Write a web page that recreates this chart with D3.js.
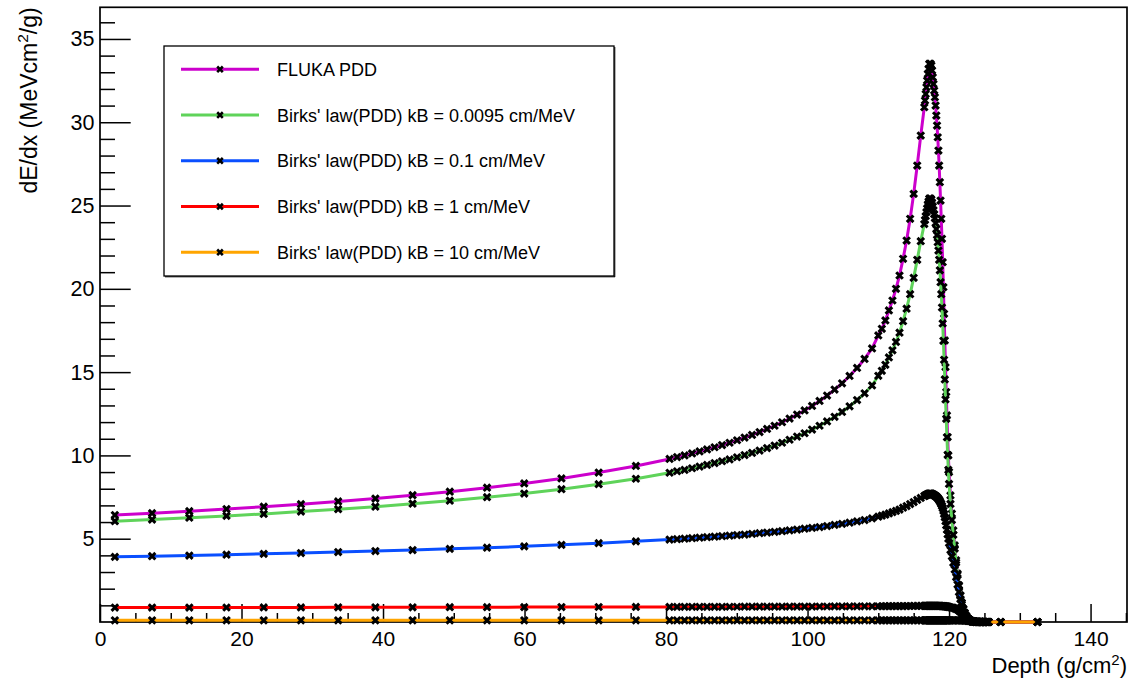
<!DOCTYPE html>
<html><head><meta charset="utf-8">
<script src="https://cdn.jsdelivr.net/npm/d3@7"></script>
<style>body{margin:0;background:#fff}svg{display:block}text{font-family:"Liberation Sans",Arial,Helvetica,sans-serif}</style>
</head><body>
<svg id="c" width="1132" height="681"></svg>
<script>
const depth = [2.1,7.36,12.62,17.88,23.14,28.4,33.66,38.92,44.18,49.44,54.7,59.96,65.22,70.48,75.74,
80.5,81.56,82.62,83.68,84.74,85.8,86.86,87.92,88.98,90.04,91.1,92.16,93.22,94.28,95.34,96.4,97.46,98.52,99.58,100.64,101.7,102.76,103.82,104.88,105.94,107.0,108.06,109.12,
110,110.5,111,111.5,112,112.5,113,113.5,114,114.5,115,115.5,116,116.5,
116.6,116.7,116.8,116.9,117.0,117.1,117.2,117.3,117.4,117.5,117.6,117.7,117.8,117.9,118.0,118.1,118.2,118.3,118.4,118.5,118.6,118.7,118.8,118.9,119.0,119.1,119.2,119.3,119.4,119.5,119.6,119.7,119.8,119.9,120.0,
120.2,120.4,120.6,120.8,121.0,121.2,121.4,121.6,121.8,122.0,122.2,122.4,122.6,122.8,123.0,123.2,123.4,123.6,123.8,124.0,124.2,124.4,124.6,124.8,125.0,125.2,125.4,125.6,
127.3,132.5];

const flukaPDD = [6.42,6.53,6.65,6.78,6.92,7.07,7.24,7.41,7.61,7.82,8.06,8.32,8.62,8.97,9.37,
9.79,9.90,10.00,10.12,10.24,10.36,10.49,10.62,10.76,10.91,11.07,11.23,11.40,11.59,11.78,11.99,12.21,12.45,12.70,12.97,13.27,13.59,13.95,14.33,14.77,15.25,15.79,16.42,
17.2,17.6,18.1,18.7,19.3,20.0,20.8,21.8,22.9,24.2,25.7,27.4,29.2,30.9,
31.3,31.7,32.1,32.5,32.9,33.2,33.5,33.5,33.5,33.4,33.1,32.7,32.3,31.9,31.5,31.0,30.4,29.8,29.1,28.3,27.4,26.4,25.3,24.2,23.0,21.6,20.1,18.5,16.9,15.3,13.8,12.4,11.1,10.0,9.0,
7.6,6.5,5.5,4.6,3.7,2.9,2.2,1.6,1.15,0.8,0.55,0.37,0.24,0.15,0.09,0.055,0.032,0.018,0.01,0.005,0.0025,0.0012,0.0005,0,0,0,0,0,
0,0];

const birks0095 = [6.05,6.15,6.26,6.37,6.49,6.63,6.77,6.92,7.10,7.28,7.49,7.71,7.97,8.27,8.60,
8.96,9.05,9.13,9.23,9.33,9.43,9.54,9.65,9.76,9.89,10.02,10.15,10.29,10.44,10.59,10.76,10.94,11.13,11.33,11.55,11.78,12.04,12.32,12.61,12.95,13.32,13.73,14.20,
14.78,15.08,15.44,15.88,16.31,16.81,17.37,18.06,18.81,19.68,20.66,21.74,22.86,23.89,
24.13,24.36,24.60,24.83,25.07,25.24,25.41,25.41,25.41,25.36,25.18,24.95,24.72,24.48,24.25,23.95,23.59,23.23,22.80,22.30,21.74,21.11,20.40,19.68,18.88,17.92,16.88,15.74,14.56,13.36,12.20,11.09,10.04,9.13,8.29,
7.09,6.12,5.23,4.41,3.57,2.82,2.16,1.58,1.14,0.79,0.55,0.37,0.24,0.15,0.09,0.055,0.032,0.018,0.01,0.005,0.0025,0.0012,0.0005,0,0,0,0,0,
0,0];

const birks01 = [3.91,3.95,3.99,4.04,4.09,4.14,4.20,4.26,4.32,4.39,4.46,4.54,4.63,4.73,4.84,
4.95,4.97,5.00,5.03,5.06,5.09,5.12,5.15,5.18,5.22,5.25,5.29,5.33,5.37,5.41,5.45,5.50,5.55,5.60,5.65,5.70,5.76,5.83,5.89,5.96,6.04,6.12,6.22,
6.32,6.38,6.44,6.52,6.59,6.67,6.75,6.86,6.96,7.08,7.20,7.33,7.45,7.56,
7.58,7.60,7.63,7.65,7.67,7.69,7.70,7.70,7.70,7.70,7.68,7.66,7.64,7.61,7.59,7.56,7.53,7.49,7.44,7.39,7.33,7.25,7.17,7.08,6.97,6.84,6.68,6.49,6.28,6.05,5.80,5.54,5.26,5.00,4.74,
4.32,3.94,3.55,3.15,2.70,2.25,1.80,1.38,1.03,0.74,0.52,0.36,0.23,0.15,0.09,0.055,0.032,0.018,0.01,0.005,0.0025,0.0012,0.0005,0,0,0,0,0,
0,0];

const birks1 = [0.865,0.867,0.869,0.871,0.874,0.876,0.879,0.881,0.884,0.887,0.890,0.893,0.896,0.900,0.904,
0.907,0.908,0.909,0.910,0.911,0.912,0.913,0.914,0.915,0.916,0.917,0.918,0.919,0.921,0.922,0.923,0.924,0.926,0.927,0.928,0.930,0.931,0.933,0.935,0.937,0.938,0.940,0.943,
0.945,0.946,0.948,0.949,0.951,0.952,0.954,0.956,0.958,0.960,0.963,0.965,0.967,0.969,
0.969,0.969,0.970,0.970,0.971,0.971,0.971,0.971,0.971,0.971,0.971,0.970,0.970,0.970,0.969,0.969,0.968,0.968,0.967,0.966,0.965,0.964,0.962,0.960,0.958,0.956,0.953,0.949,0.944,0.939,0.932,0.925,0.917,0.909,0.900,
0.884,0.867,0.846,0.821,0.787,0.744,0.688,0.615,0.535,0.444,0.355,0.270,0.194,0.130,0.083,0.052,0.031,0.018,0.010,0.005,0.0025,0.0012,0.0005,0,0,0,0,0,
0,0];

const birks10 = [0.0985,0.0985,0.0985,0.0985,0.0986,0.0986,0.0986,0.0987,0.0987,0.0987,0.0988,0.0988,0.0989,0.0989,0.0989,
0.0990,0.0990,0.0990,0.0990,0.0990,0.0990,0.0991,0.0991,0.0991,0.0991,0.0991,0.0991,0.0991,0.0991,0.0992,0.0992,0.0992,0.0992,0.0992,0.0992,0.0993,0.0993,0.0993,0.0993,0.0993,0.0993,0.0994,0.0994,
0.0994,0.0994,0.0994,0.0995,0.0995,0.0995,0.0995,0.0995,0.0996,0.0996,0.0996,0.0996,0.0997,0.0997,
0.0997,0.0997,0.0997,0.0997,0.0997,0.0997,0.0997,0.0997,0.0997,0.0997,0.0997,0.0997,0.0997,0.0997,0.0997,0.0997,0.0997,0.0997,0.0997,0.0996,0.0996,0.0996,0.0996,0.0996,0.0996,0.0995,0.0995,0.0995,0.0994,0.0993,0.0993,0.0992,0.0991,0.0990,0.0989,
0.0987,0.0985,0.0982,0.0979,0.0974,0.0967,0.0957,0.0941,0.0920,0.0889,0.0846,0.0787,0.0706,0.0600,0.0474,0.0355,0.0242,0.0153,0.0091,0.0048,0.0024,0.0012,0.0005,0,0,0,0,0,
0,0];

const seriesNames = ["FLUKA PDD","Birks' law(PDD) kB = 0.0095 cm/MeV","Birks' law(PDD) kB = 0.1 cm/MeV","Birks' law(PDD) kB = 1 cm/MeV","Birks' law(PDD) kB = 10 cm/MeV"];
const seriesColors = ["#cc00cc","#5fd35a","#0a4fff","#ff0000","#ffa500"];
const seriesValues = [flukaPDD, birks0095, birks01, birks1, birks10];
const xMajorTicks = [0,20,40,60,80,100,120,140];
const yMajorTicks = [5,10,15,20,25,30,35];

const svg = d3.select("#c");
const L=100, R=1127, T=7.3, B=622;
const x = d3.scaleLinear().domain([0,145.15]).range([L,R]);
const y = d3.scaleLinear().domain([0,36.9]).range([B,T]);
const FONT = '"Liberation Sans",Arial,sans-serif';

// frame
svg.append("rect").attr("x",L).attr("y",T).attr("width",R-L).attr("height",B-T)
  .attr("fill","none").attr("stroke","#000").attr("stroke-width",1.7);

// x axis minor ticks
const xMinor = d3.range(5,146,5).filter(v=>v%20!==0 && v<=145);
svg.append("g").attr("transform",`translate(0,${B})`)
  .call(d3.axisBottom(x).tickValues(xMinor).tickSizeInner(-9).tickSizeOuter(0).tickFormat(""))
  .call(g=>{g.select(".domain").remove(); g.selectAll("line").attr("stroke-width",1.5);});
// x axis major
svg.append("g").attr("transform",`translate(0,${B})`)
  .call(d3.axisBottom(x).tickValues(xMajorTicks).tickSizeInner(-18).tickSizeOuter(0).tickPadding(9).tickFormat(d3.format("d")))
  .call(g=>{g.select(".domain").remove(); g.selectAll("line").attr("stroke-width",1.5);
    g.selectAll("text").attr("font-size",21).attr("fill","#000").style("font-family",FONT);});

// y axis minor
const yMinor = d3.range(1,37).filter(v=>v%5!==0);
svg.append("g").attr("transform",`translate(${L},0)`)
  .call(d3.axisLeft(y).tickValues(yMinor).tickSizeInner(-15).tickSizeOuter(0).tickFormat(""))
  .call(g=>{g.select(".domain").remove(); g.selectAll("line").attr("stroke-width",1.5);});
svg.append("g").attr("transform",`translate(${L},0)`)
  .call(d3.axisLeft(y).tickValues(yMajorTicks).tickSizeInner(-30.7).tickSizeOuter(0).tickPadding(5.5).tickFormat(d3.format("d")))
  .call(g=>{g.select(".domain").remove(); g.selectAll("line").attr("stroke-width",1.5);
    g.selectAll("text").attr("font-size",21.5).attr("fill","#000").style("font-family",FONT);});

// axis titles
const xt = svg.append("text").attr("x",R).attr("y",673).attr("text-anchor","end").attr("font-size",22);
xt.append("tspan").text("Depth (g/cm");
xt.append("tspan").attr("font-size",15).attr("dy",-8).text("2");
xt.append("tspan").attr("dy",8).text(")");

const yt = svg.append("text").attr("transform",`translate(37,${T}) rotate(-90)`).attr("text-anchor","end").attr("font-size",23);
yt.append("tspan").text("dE/dx (MeVcm");
yt.append("tspan").attr("font-size",15.5).attr("dy",-9).text("2");
yt.append("tspan").attr("dy",9).text("/g)");

// series
const markerPath = "M-3.3,-3.3L3.3,3.3M-3.3,3.3L3.3,-3.3";
const line = d3.line().x(d=>x(d[0])).y(d=>y(d[1]));
seriesValues.forEach((vals,i)=>{
  const n = Math.min(depth.length, vals.length);
  const pts = d3.range(n).map(k=>[depth[k], vals[k]]);
  const g = svg.append("g");
  g.append("path").datum(pts).attr("d",line).attr("fill","none")
    .attr("stroke",seriesColors[i]).attr("stroke-width",3).attr("stroke-linejoin","round");
  g.selectAll("path.m").data(pts).enter().append("path").attr("class","m")
    .attr("transform",d=>`translate(${x(d[0])},${y(d[1])})`)
    .attr("d",markerPath).attr("stroke","#000").attr("stroke-width",3).attr("fill","none");
});

// legend
const lg = svg.append("g");
lg.append("rect").attr("x",164).attr("y",46).attr("width",450).attr("height",230)
  .attr("fill","#fff").attr("stroke","#000").attr("stroke-width",1.3);
lg.append("line").attr("x1",614.8).attr("y1",47).attr("x2",614.8).attr("y2",277).attr("stroke","#000").attr("stroke-width",1);
lg.append("line").attr("x1",165).attr("y1",276.8).attr("x2",615).attr("y2",276.8).attr("stroke","#000").attr("stroke-width",1);
const legY = d3.scaleLinear().domain([0,4]).range([69.3,252.3]);
seriesNames.forEach((nm,i)=>{
  const yy = legY(i);
  lg.append("line").attr("x1",181).attr("x2",259).attr("y1",yy).attr("y2",yy)
    .attr("stroke",seriesColors[i]).attr("stroke-width",3);
  lg.append("path").attr("transform",`translate(220,${yy})`).attr("d","M-2.8,-2.8L2.8,2.8M-2.8,2.8L2.8,-2.8")
    .attr("stroke","#000").attr("stroke-width",2.6);
  lg.append("text").attr("x",277).attr("y",yy+6.5).attr("font-size",18).text(nm);
});
</script>
</body></html>
